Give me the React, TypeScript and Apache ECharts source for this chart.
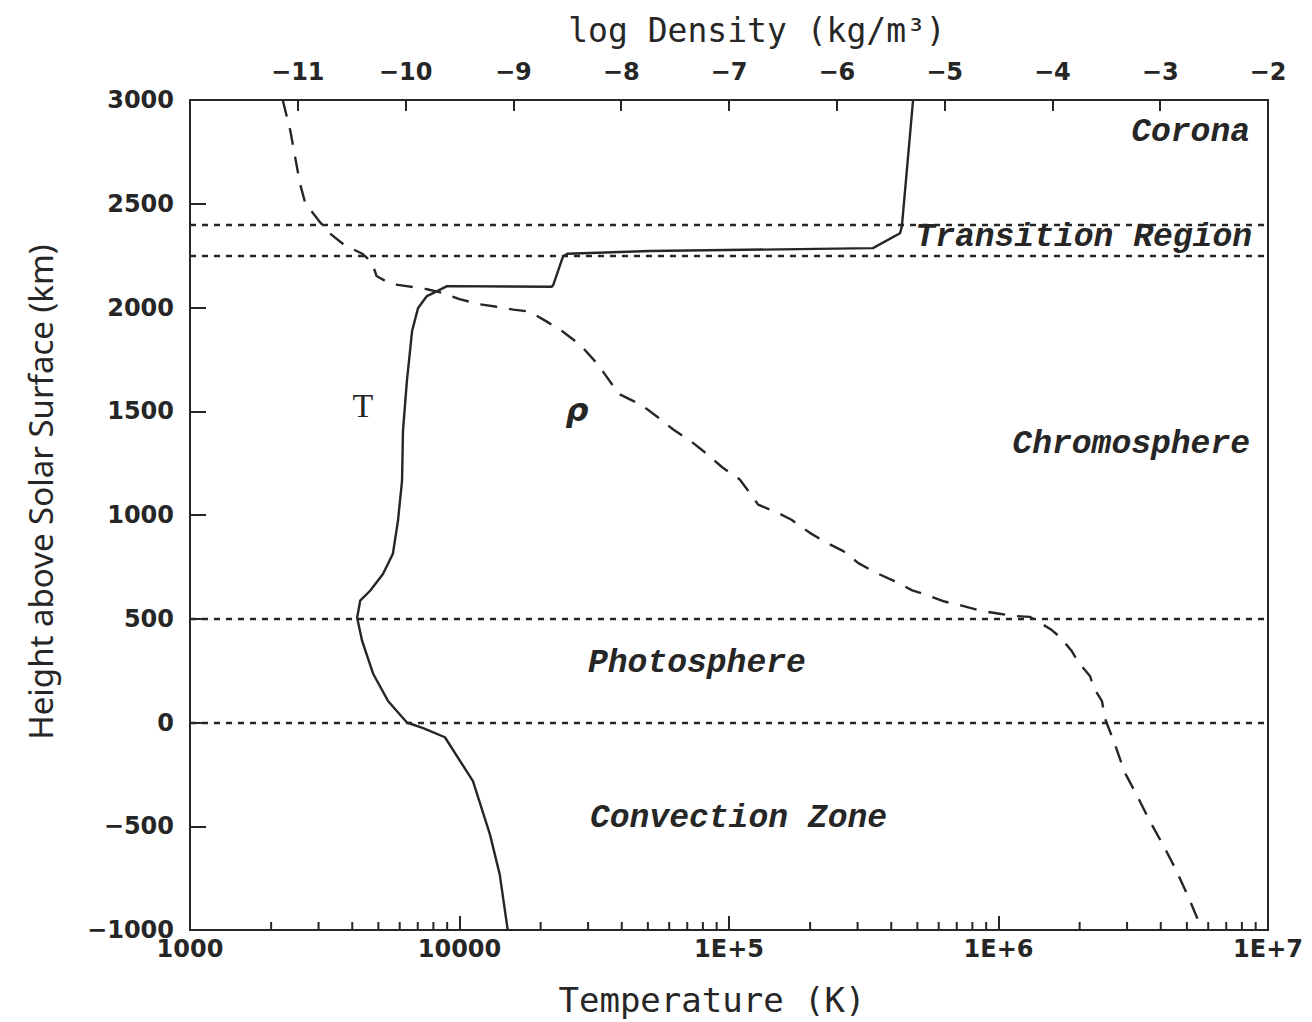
import React, { useEffect, useRef } from "react";
import * as echarts from "echarts";

// Temperature profile (solid line, bottom log axis)
const tempHeight = [-1000, -732, -539, -283, -71, -27, 0, 104, 235, 394, 505, 587, 635, 716, 813, 971, 1164, 1405, 1646, 1887, 1998, 2055, 2079, 2103, 2100, 2110, 2175, 2245, 2259, 2272, 2286, 2358, 2391, 3000];
const tempK = [15100, 14100, 12970, 11220, 8830, 7330, 6380, 5430, 4780, 4350, 4170, 4280, 4660, 5200, 5660, 5910, 6120, 6170, 6380, 6670, 7020, 7570, 8260, 8990, 22000, 22300, 23200, 24200, 25100, 50900, 342000, 431000, 438000, 482000];

// Density profile (dashed line, top axis: log density)
const densHeight = [3000, 2853, 2598, 2501, 2409, 2356, 2298, 2259, 2215, 2152, 2114, 2103, 2088, 2069, 2040, 2015, 2005, 1990, 1980, 1932, 1883, 1820, 1728, 1583, 1530, 1471, 1413, 1350, 1292, 1229, 1171, 1108, 1050, 1011, 977, 914, 865, 826, 768, 720, 685, 637, 613, 583, 563, 539, 524, 514, 509, 451, 412, 344, 291, 223, 170, 103, 16, -105, -240, -347, -472, -593, -714, -839, -1000];
const logDensity = [-11.14, -11.07, -10.98, -10.93, -10.79, -10.70, -10.56, -10.40, -10.31, -10.27, -10.14, -9.99, -9.80, -9.65, -9.50, -9.31, -9.17, -9.00, -8.85, -8.69, -8.54, -8.38, -8.22, -8.02, -7.81, -7.66, -7.52, -7.34, -7.20, -7.06, -6.90, -6.81, -6.73, -6.55, -6.42, -6.25, -6.09, -5.94, -5.80, -5.63, -5.48, -5.30, -5.16, -5.00, -4.84, -4.67, -4.49, -4.37, -4.21, -4.02, -3.93, -3.82, -3.76, -3.65, -3.62, -3.54, -3.51, -3.42, -3.33, -3.22, -3.10, -2.97, -2.85, -2.74, -2.61];

// Layer boundaries (dotted lines)
const layerBoundaries = [2400, 2250, 500, 0];

// Minor ticks of the log temperature axis
const minorTemps = [2000, 3000, 4000, 5000, 6000, 7000, 8000, 9000, 20000, 30000, 40000, 50000, 60000, 70000, 80000, 90000, 200000, 300000, 400000, 500000, 600000, 700000, 800000, 900000, 2000000, 3000000, 4000000, 5000000, 6000000, 7000000, 8000000, 9000000];

// Region labels
const regionNames = ["Corona", "Transition Region", "Chromosphere", "Photosphere", "Convection Zone"];

const INK = "#262626";
const tickFont = { fontFamily: "DejaVu Sans", fontWeight: "bold" as const, fontSize: 24, color: INK };
const minus = (v: number) => (v < 0 ? "\u2212" + Math.abs(v) : String(v));

export default function App() {
  const ref = useRef<HTMLDivElement>(null);
  useEffect(() => {
    if (!ref.current) return;
    const chart = echarts.init(ref.current, undefined, { renderer: "svg" });
    const regionFont = 'italic bold 33px "Liberation Mono"';
    const txt = (text: string, x: number, y: number, font: string, align: string, extra: any = {}) => ({
      type: "text", x, y, ...extra,
      style: { text, font, fill: INK, align, verticalAlign: "middle", textAlign: align, textVerticalAlign: "middle" },
    });
    const option: any = {
      animation: false,
      backgroundColor: "#ffffff",
      grid: { left: 190, right: 44, top: 100, bottom: 92, show: true, borderColor: INK, borderWidth: 2, backgroundColor: "transparent" },
      xAxis: [
        {
          type: "log", logBase: 10, min: 1000, max: 10000000, position: "bottom",
          axisLine: { show: false, onZero: false },
          axisTick: { show: true, inside: true, length: 14, lineStyle: { color: INK, width: 2 } },
          minorTick: { show: false },
          splitLine: { show: false },
          axisLabel: { ...tickFont, margin: 7, formatter: (v: number) => (v <= 10000 ? String(Math.round(v)) : "1E+" + Math.round(Math.log10(v))) },
        },
        {
          type: "value", min: -12, max: -2, interval: 1, position: "top",
          axisLine: { show: false, onZero: false },
          axisTick: { show: true, inside: true, length: 11, lineStyle: { color: INK, width: 2 } },
          splitLine: { show: false },
          axisLabel: { ...tickFont, margin: 16, formatter: (v: number) => (v === -12 ? "" : minus(v)) },
        },
      ],
      yAxis: [
        {
          type: "value", min: -1000, max: 3000, interval: 500, position: "left",
          axisLine: { show: false, onZero: false },
          axisTick: { show: true, inside: true, length: 16, lineStyle: { color: INK, width: 2 } },
          splitLine: { show: false },
          axisLabel: { ...tickFont, margin: 16, formatter: (v: number) => minus(v) },
        },
      ],
      series: [
        {
          name: "T", type: "line", xAxisIndex: 0, yAxisIndex: 0, symbol: "none",
          data: tempK.map((t, i) => [t, tempHeight[i]]),
          lineStyle: { color: INK, width: 2.4 },
          markLine: {
            silent: true, symbol: "none", label: { show: false },
            lineStyle: { color: INK, width: 2.4, type: [6, 6] },
            data: layerBoundaries.map((h) => ({ yAxis: h })),
          },
        },
        {
          name: "rho", type: "line", xAxisIndex: 1, yAxisIndex: 0, symbol: "none",
          data: logDensity.map((d, i) => [d, densHeight[i]]),
          lineStyle: { color: INK, width: 2.4, type: [17, 12] },
        },
        {
          name: "minorTicks", type: "custom", xAxisIndex: 0, yAxisIndex: 0, silent: true,
          data: minorTemps.map((t) => [t, -1000]),
          encode: { x: 0, y: 1 },
          renderItem: (params: any, api: any) => {
            const p = api.coord([api.value(0), api.value(1)]);
            return { type: "line", shape: { x1: p[0], y1: p[1], x2: p[0], y2: p[1] - 8 }, style: { stroke: INK, lineWidth: 2 } };
          },
        },
      ],
      graphic: [
        txt("log Density (kg/m\u00b3)", 757, 30, '33px "DejaVu Sans Mono"', "center"),
        txt("Temperature (K)", 712, 1000, '34px "DejaVu Sans Mono"', "center"),
        txt("Height above Solar Surface (km)", 40, 492, '33px "Noto Sans"', "center", { rotation: Math.PI / 2 }),
        txt(regionNames[0], 1250, 132, regionFont, "right"),
        txt(regionNames[1], 1252, 237, regionFont, "right"),
        txt(regionNames[2], 1250, 444, regionFont, "right"),
        txt(regionNames[3], 588, 663, regionFont, "left"),
        txt(regionNames[4], 590, 818, regionFont, "left"),
        txt("T", 363, 405, '34px "Liberation Serif"', "center"),
        txt("\u03c1", 577, 410, 'italic bold 32px "DejaVu Sans"', "center"),
      ],
    };
    chart.setOption(option);
    return () => chart.dispose();
  }, []);
  return <div ref={ref} style={{ position: "fixed", left: 0, top: 0, width: 1312, height: 1022 }} />;
}
